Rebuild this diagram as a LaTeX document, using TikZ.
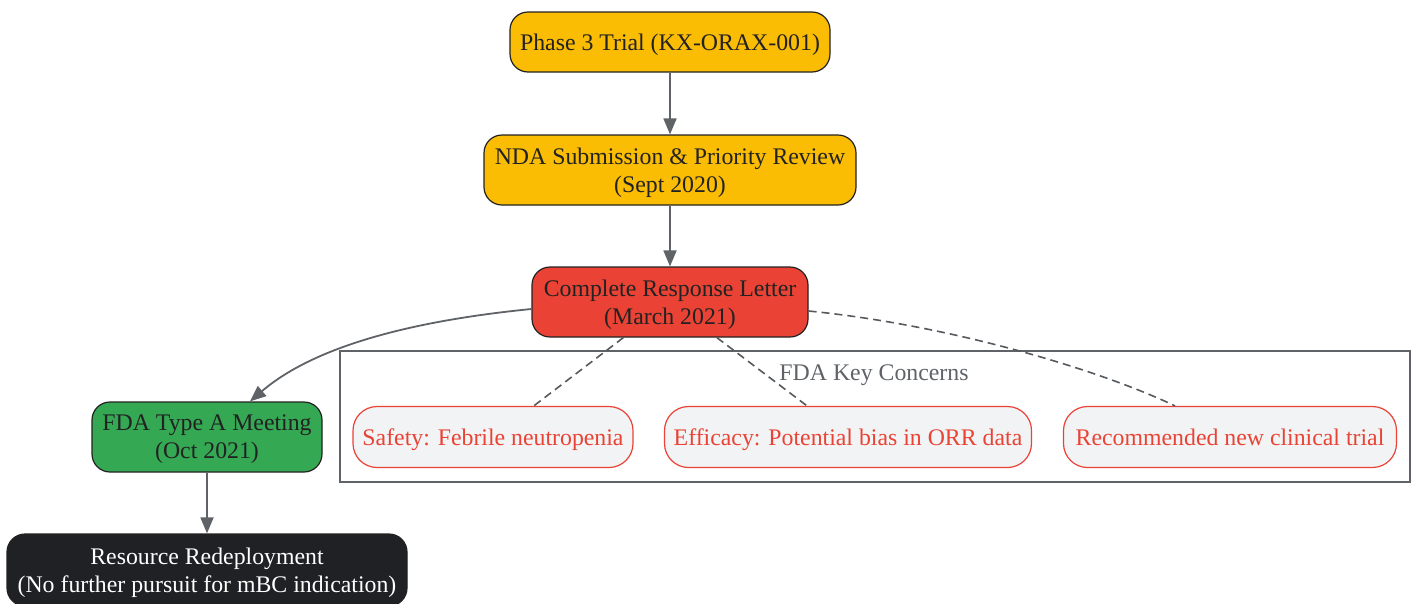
\documentclass[tikz,border=0pt]{standalone}
\usepackage{fontspec}
\setmainfont{Liberation Serif}
\usetikzlibrary{arrows.meta,calc}
\definecolor{cyellow}{HTML}{FBBC04}
\definecolor{cred}{HTML}{EA4335}
\definecolor{cgreen}{HTML}{34A853}
\definecolor{cdark}{HTML}{202124}
\definecolor{clight}{HTML}{F1F3F4}
\definecolor{cedge}{HTML}{5F6368}
\definecolor{cborder}{HTML}{222222}
\tikzset{
  box/.style={draw=cborder, line width=1.2pt, rounded corners=18pt, align=center,
    inner sep=0pt, text depth=-1.8pt, font=\fontsize{23.8}{28}\selectfont, text=cborder},
  concern/.style={draw=cred, fill=clight, line width=1.2pt, rounded corners=24pt,
    align=center, inner sep=0pt, text depth=-1.4pt, font=\fontsize{23.8}{28}\selectfont, text=cred,
    minimum height=61pt},
  flow/.style={draw=cedge, line width=1.8pt, -{Triangle[length=16pt,width=13pt]}},
  dashlink/.style={draw=cedge!90!black, line width=1.6pt, dash pattern=on 8pt off 5pt},
}
\begin{document}
\begin{tikzpicture}[x=1pt,y=-1pt]
\useasboundingbox (0,0) rectangle (1413,603);
% cluster
\node[draw=cedge, line width=1.3pt, fill=white, minimum width=1070pt, minimum height=131pt, inner sep=0pt] (K) at (875,416.5) {};
\node[text=cedge, font=\fontsize{23.8}{28}\selectfont, inner sep=0pt] (KL) at (874,375.5) {FDA Key Concerns};
% main nodes
\node[box, fill=cyellow, minimum width=320pt, minimum height=60pt] (A) at (670,42) {Phase 3 Trial (KX-ORAX-001)};
\node[box, fill=cyellow, minimum width=372pt, minimum height=70pt] (B) at (670,170) {NDA Submission \& Priority Review\\(Sept 2020)};
\node[box, fill=cred, minimum width=276pt, minimum height=70pt] (C) at (670,302) {Complete Response Letter\\(March 2021)};
\node[box, fill=cgreen, minimum width=230pt, minimum height=70pt] (D) at (207,437) {FDA Type A Meeting\\(Oct 2021)};
\node[box, fill=cdark, text=white, minimum width=400pt, minimum height=72pt] (E) at (207,570) {Resource Redeployment\\(No further pursuit for mBC indication)};
% concerns
\node[concern, minimum width=280pt] (S1) at (493,437) {Safety: Febrile neutropenia};
\node[concern, minimum width=367pt] (S2) at (848,437) {Efficacy: Potential bias in ORR data};
\node[concern, minimum width=333pt] (S3) at (1230,437) {Recommended new clinical trial};
% edges
\draw[flow] (A) -- (B);
\draw[flow] (B) -- (C);
\draw[flow] (C.west |- 0,309) .. controls (400,322) and (310,350) .. (D.north -| 250,0);
\draw[flow] (D) -- (E);
\draw[dashlink] (C) -- (S1);
\draw[dashlink] (C) -- (S2);
\draw[dashlink] (C.east |- 0,311) .. controls (950,325) and (1100,370) .. (S3.north -| 1175,0);
\end{tikzpicture}
\end{document}
